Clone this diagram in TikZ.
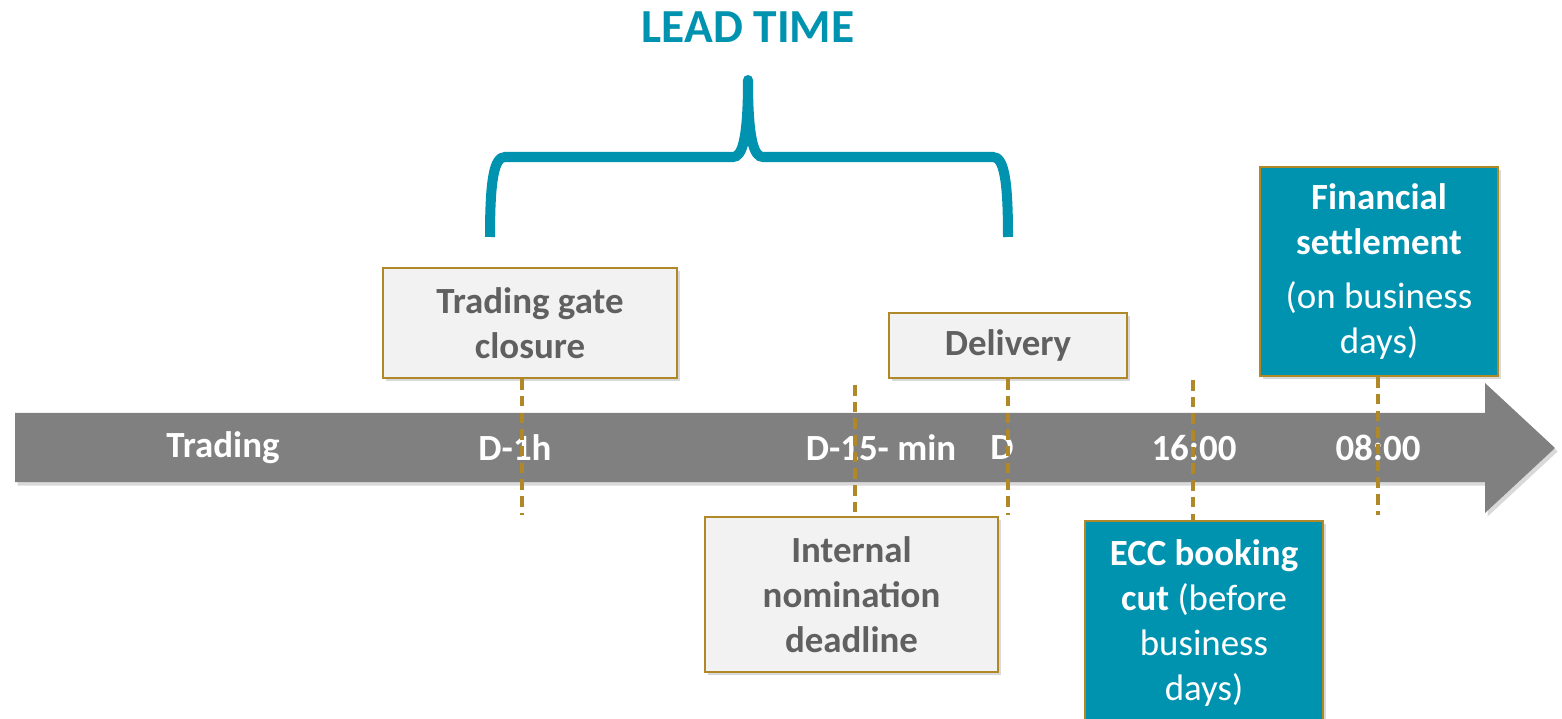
\documentclass[tikz,border=0pt]{standalone}
\usepackage{fontspec}
\setmainfont{Carlito}
\usetikzlibrary{shadows}
\definecolor{leadteal}{RGB}{0,147,176}
\definecolor{gatebrown}{RGB}{176,136,40}
\definecolor{boxgray}{RGB}{242,242,242}
\definecolor{textgray}{RGB}{96,96,96}
\definecolor{axisgray}{RGB}{128,128,128}

\begin{document}
\begin{tikzpicture}[x=0.02cm, y=-0.02cm, line join=miter,
  box/.style={draw=gatebrown, line width=1.3pt, align=center, inner sep=0pt,
    font=\fontsize{21}{25.6}\selectfont\bfseries,
    drop shadow={opacity=0.3, shadow xshift=1.5pt, shadow yshift=-1.5pt}},
  graybox/.style={box, fill=boxgray, text=textgray},
  tealbox/.style={box, fill=leadteal, text=white},
  onarrow/.style={text=white, font=\fontsize{21}{25.6}\selectfont\bfseries},
  tick/.style={gatebrown, line width=2.2pt, dash pattern=on 6pt off 3.5pt}]
  \clip (0,0) rectangle (1562,719);
  % time axis
  \fill[axisgray, drop shadow={opacity=0.3, shadow xshift=1.5pt, shadow yshift=-2pt}]
    (15,413) -- (1485,413) -- (1485,383) -- (1555,448) -- (1485,513) -- (1485,482) -- (15,482) -- cycle;
  \node[onarrow] (trading) at (223,448) {Trading};
  \node[onarrow] (dh) at (515,448) {D-1h};
  \node[onarrow] (dmin) at (881,448) {D-15- min};
  \node[onarrow] (d) at (1002,448) {D};
  \node[onarrow] (sixteen) at (1194,448) {16:00};
  \node[onarrow] (eight) at (1378,448) {08:00};
  % events
  \node[graybox, minimum width=5.88cm, minimum height=2.2cm] (gate) at (530,323) {Trading gate\\closure};
  \node[graybox, minimum width=4.76cm, minimum height=1.3cm] (delivery) at (1008,345.5) {Delivery};
  \node[graybox, minimum width=5.86cm, minimum height=3.1cm] (nomination) at (851.5,594.5) {Internal\\nomination\\deadline};
  \node[tealbox, minimum width=4.76cm, minimum height=4.08cm] (ecc) at (1204,623)
    {ECC booking\\cut \mdseries(before\\\mdseries business\\\mdseries days)};
  \node[tealbox, minimum width=4.76cm, minimum height=4.18cm] (settle) at (1379,271.5)
    {Financial\\settlement\\[5pt]\mdseries(on business\\\mdseries days)};
  \coordinate (gatetick) at (522,515);
  \coordinate (nomtick) at (855,385);
  \coordinate (deltick) at (1008,515);
  \coordinate (ecctick) at (1193,380);
  \coordinate (settletick) at (1378,515);
  \draw[tick] (gate.south -| gatetick) -- (gatetick);
  \draw[tick] (nomtick) -- (nomtick |- nomination.north);
  \draw[tick] (delivery.south -| deltick) -- (deltick);
  \draw[tick] (ecctick) -- (ecctick |- ecc.north);
  \draw[tick] (settle.south -| settletick) -- (settletick);
  % lead time brace
  \node[text=leadteal, font=\fontsize{27}{32}\selectfont\bfseries] (leadtime) at (748,27) {LEAD TIME};
  \draw[leadteal, line width=5.7pt] (490,237) .. controls (490,180) and (494,157) .. (505,157) -- (733,157)
    .. controls (742,157) and (748,140) .. (748,80)
    .. controls (748,140) and (754,157) .. (763,157) -- (993,157)
    .. controls (1004,157) and (1008,180) .. (1008,237);
  \fill[leadteal] (748,80) circle (2.85pt);
\end{tikzpicture}
\end{document}
